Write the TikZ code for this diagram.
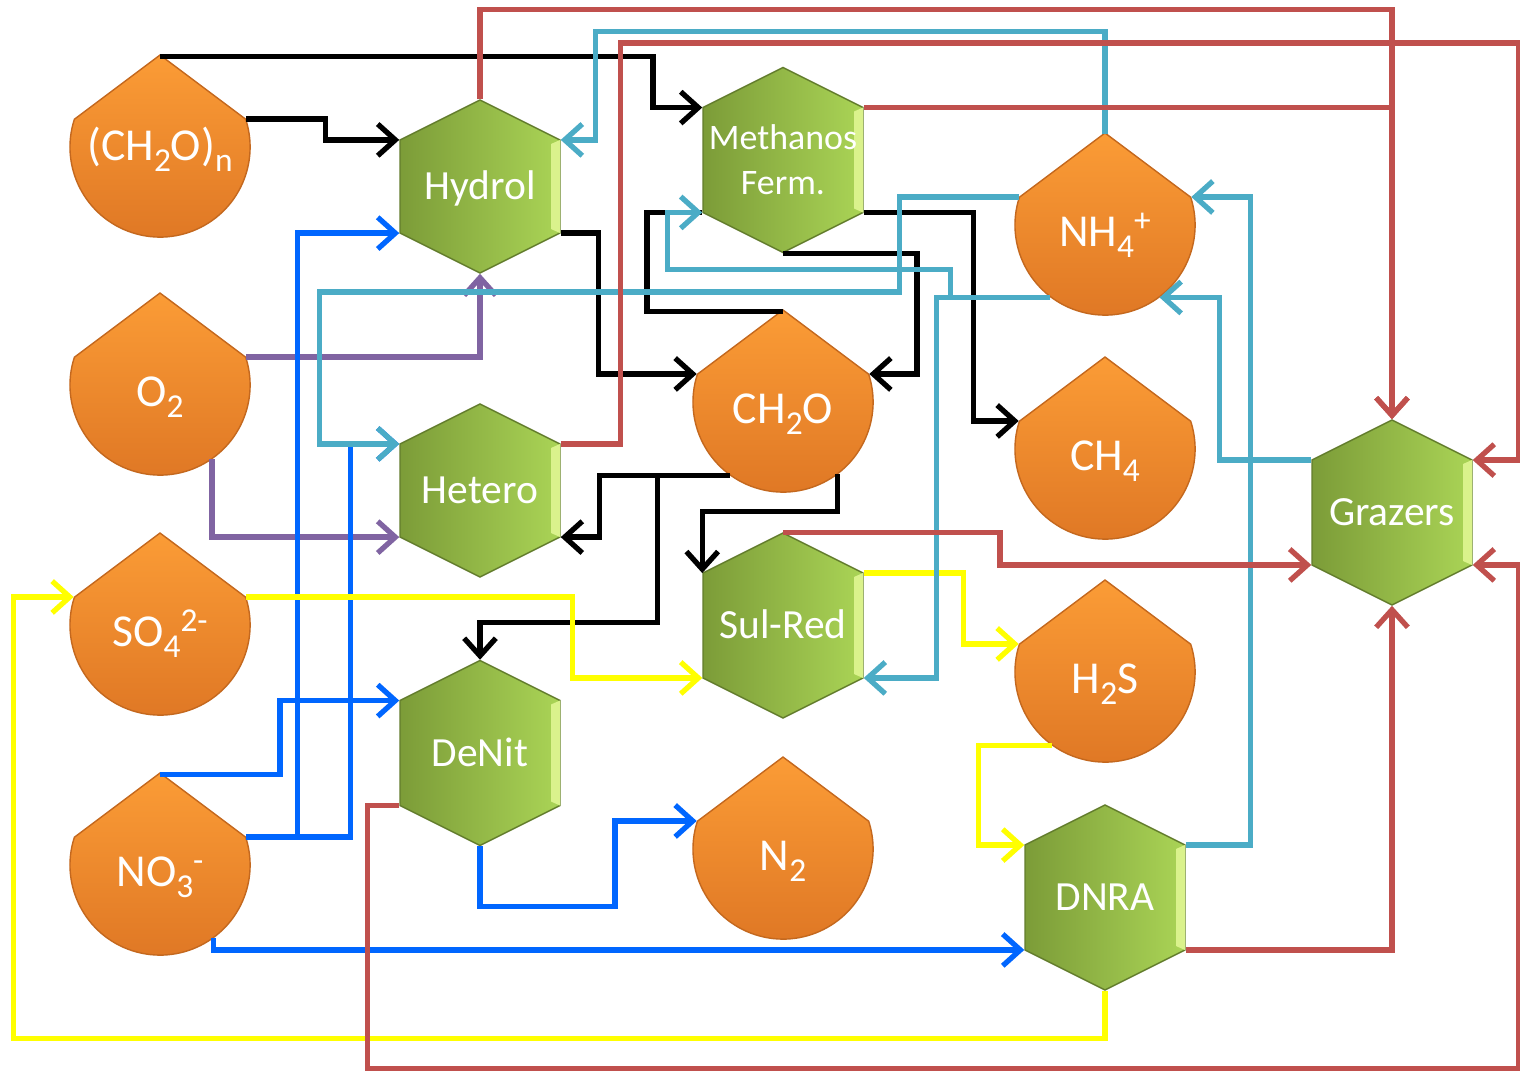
\documentclass[tikz,border=0pt]{standalone}
\usepackage{fontspec}
\setmainfont{Carlito}
\usetikzlibrary{arrows.meta}
\definecolor{hexdark}{RGB}{124,156,56}
\definecolor{hexlight}{RGB}{170,212,86}
\definecolor{hexedge}{RGB}{218,242,140}
\definecolor{droptop}{RGB}{251,156,54}
\definecolor{dropbottom}{RGB}{222,118,36}
\definecolor{dropedge}{RGB}{196,104,30}
\definecolor{linepurple}{RGB}{128,100,162}
\definecolor{lineblue}{RGB}{0,102,255}
\definecolor{lineyellow}{RGB}{255,255,0}
\definecolor{linecyan}{RGB}{75,172,198}
\definecolor{linered}{RGB}{192,80,77}
\newcommand{\lowsub}[1]{\raisebox{-3.2pt}{\fontsize{9.5}{10}\selectfont #1}}
\newcommand{\highsup}[1]{\raisebox{4.2pt}{\fontsize{9.5}{10}\selectfont #1}}
\newcommand{\hexcell}[6][text height=8pt,text depth=0.5pt]{%
  \shade[hexfill] (#3,#4) ++(0,-#5/2-40) -- ++(-80,40) -- ++(0,#5) -- ++(80,40) -- ++(80,-40) -- ++(0,-#5) -- cycle;
  \fill[hexedge] (#3+71,#4-#5/2+4) -- (#3+80,#4-#5/2) -- (#3+80,#4+#5/2) -- (#3+71,#4+#5/2-4) -- cycle;
  \node[hexlabel,minimum height={(#5+80)*0.28453pt},#1] (#2) at (#3,#4) {#6};
}
\newcommand{\dropcell}[5][text height=12pt]{%
  \shade[dropfill] (#3,#4-92) -- (#3-85.6,#4-27.8) arc[start angle=162,end angle=378,radius=0.9cm] -- cycle;
  \node[droplabel,#1] (#2) at (#3,#4) {#5};
}

\begin{document}
\begin{tikzpicture}[x=0.01cm,y=-0.01cm,
  hexfill/.style={left color=hexdark,right color=hexlight,draw=hexdark!80!black,line width=0.4pt},
  hexlabel/.style={rectangle,inner sep=0pt,minimum width=1.6cm,text=white,align=center,font=\fontsize{11.8}{14}\selectfont},
  dropfill/.style={top color=droptop,bottom color=dropbottom,draw=dropedge,line width=0.4pt},
  droplabel/.style={circle,inner sep=0pt,minimum size=1.8cm,text depth=0pt,text=white,font=\fontsize{13}{15}\selectfont},
  flow/.style={line width=1.5pt,-{Straight Barb[length=5pt,width=9pt]}},
  carbon/.style={flow,black},
  oxy/.style={flow,linepurple},
  nitrate/.style={flow,lineblue},
  sulfur/.style={flow,lineyellow},
  ammon/.style={flow,linecyan},
  graze/.style={flow,linered}]
\path[use as bounding box,fill=white] (0,0) rectangle (1520,1072);

\hexcell{hydrol}{480}{186.5}{93}{Hydrol}
\hexcell{hetero}{480}{490.5}{93}{Hetero}
\hexcell[font=\fontsize{10.2}{12.8}\selectfont]{methf}{783}{160}{105}{Methanos\\Ferm.}
\hexcell{sulred}{783}{625.5}{105}{Sul-Red}
\hexcell{denit}{480}{753}{105}{DeNit}
\hexcell{dnra}{1105}{897.5}{105}{DNRA}
\hexcell{grazers}{1392}{512.5}{105}{Grazers}

\dropcell[text height=7.4pt]{chn}{160}{147}{(CH\lowsub{2}O)\lowsub{n}}
\dropcell{otwo}{160}{385}{O\lowsub{2}}
\dropcell{sofour}{160}{625}{SO\lowsub{4}\highsup{2-}}
\dropcell{nothree}{160}{865}{NO\lowsub{3}\highsup{-}}
\dropcell{cho}{783}{402}{CH\lowsub{2}O}
\dropcell{nhfour}{1105}{225}{NH\lowsub{4}\highsup{+}}
\dropcell{chfour}{1105}{449}{CH\lowsub{4}}
\dropcell{hts}{1105}{672}{H\lowsub{2}S}
\dropcell{ntwo}{783}{849}{N\lowsub{2}}

\draw[carbon] (chn.north) -- ++(493,0) |- (methf.147);
\draw[carbon] (chn.18) -- ++(79,0) |- (hydrol.150);
\draw[carbon] (hydrol.330) -- ++(38,0) |- (cho.162);
\draw[carbon] (methf.327) -- ++(110,0) |- (chfour.162);
\draw[carbon] (methf.south) -- ++(134,0) |- (cho.18);
\draw[carbon,-] (cho.north) -- ++(-136,0) |- (methf.213);
\draw[carbon] (cho.-126) -- ++(-130,0) |- (hetero.330);
\draw[carbon] (cho.-126) -- ++(-72,0) -- ++(0,147) -| (denit.north);
\draw[carbon] (cho.-53) -- ++(0,37) -| (sulred.147);

\draw[oxy] (otwo.18) -| (hydrol.south);
\draw[oxy] (otwo.-55) |- (hetero.210);

\draw[nitrate] (nothree.18) -- ++(51,0) |- (hydrol.210);
\draw[nitrate] (nothree.18) -- ++(104,0) |- (hetero.150);
\draw[nitrate] (nothree.north) -- ++(120,0) |- (denit.147);
\draw[nitrate] (nothree.-54) |- (dnra.213);
\draw[nitrate] (denit.south) -- ++(0,60) -- ++(135,0) |- (ntwo.162);

\draw[sulfur] (sofour.18) -- ++(326,0) |- (sulred.213);
\draw[sulfur] (sulred.33) -- ++(100,0) |- (hts.162);
\draw[sulfur] (hts.-126) -- ++(-73,0) |- (dnra.147);
\draw[sulfur] (dnra.south) -- ++(0,48) -| ([xshift=-0.6cm]sofour.162) -- (sofour.162);

\draw[ammon] (nhfour.north) -- ++(0,-103) -| ([xshift=0.35cm]hydrol.30) -- (hydrol.30);
\draw[ammon] (nhfour.162) -- ++(-119,0) -- ++(0,95) -| ([xshift=-0.8cm]hetero.150) -- (hetero.150);
\draw[ammon] (nhfour.-127) -- ++(-100,0) -- ++(0,-28) -| ([xshift=-0.35cm]methf.213) -- (methf.213);
\draw[ammon] (nhfour.-127) -- ++(-114,0) |- (sulred.327);
\draw[ammon] (grazers.147) -- ++(-92,0) |- (nhfour.-53);
\draw[ammon] (dnra.33) -- ++(65,0) |- (nhfour.18);

\draw[graze] (hydrol.north) -- ++(0,-90) -| (grazers.north);
\draw[graze] (methf.33) -| (grazers.north);
\draw[graze] (hetero.30) -- ++(60,0) -- ++(0,-401) -| ([xshift=0.46cm]grazers.33) -- (grazers.33);
\draw[graze] (sulred.north) -- ++(217,0) |- (grazers.213);
\draw[graze] (dnra.327) -| (grazers.south);
\draw[graze] (denit.213) -- ++(-32,0) -- ++(0,263) -| ([xshift=0.46cm]grazers.327) -- (grazers.327);
\end{tikzpicture}
\end{document}
